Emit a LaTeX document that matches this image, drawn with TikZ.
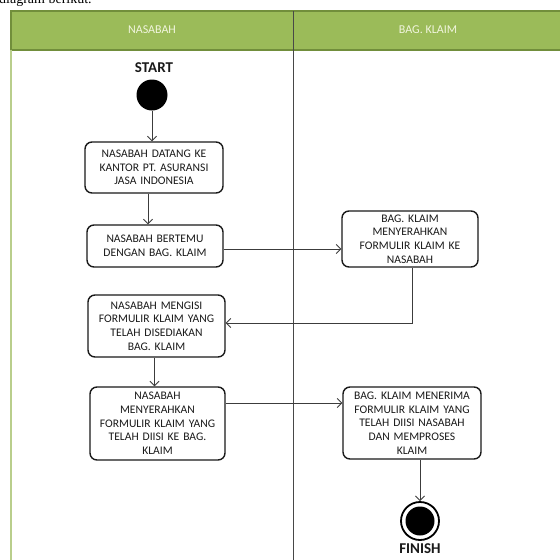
\documentclass[tikz,border=0pt]{standalone}
\usepackage{fontspec}
\setmainfont{Carlito}
\newfontfamily\introfont{Liberation Serif}
\usetikzlibrary{arrows.meta,calc}

\definecolor{lanegreen}{HTML}{9BBB59}
\definecolor{laneedge}{HTML}{718E3B}
\definecolor{laneside}{HTML}{B9CE8C}
\definecolor{lanetext}{HTML}{F1F5DE}
\definecolor{ink}{HTML}{1A1A1A}

\tikzset{
  act/.style={draw=ink, line width=1.4pt, rounded corners=7pt, fill=white,
    text=ink, align=center, inner sep=1pt,
    font=\fontsize{11.6}{13.7}\selectfont},
  flow/.style={draw=ink!85, line width=0.9pt,
    -{Straight Barb[length=4.5pt,width=9pt,line width=0.9pt]}},
  lanehead/.style={text=lanetext, font=\fontsize{12}{13}\selectfont},
  bigword/.style={text=ink, font=\fontsize{15}{16}\selectfont\bfseries},
}

\begin{document}
\begin{tikzpicture}[x=1pt,y=-1pt]
\useasboundingbox (0,0) rectangle (560,560);
\clip (0,0) rectangle (560,560);
\fill[white] (0,0) rectangle (560,560);

% preceding sentence of the page, cut by the top edge
\node[anchor=base west, inner sep=0pt, font=\introfont\fontsize{14}{15}\selectfont]
  (intro) at (-1,3.5) {diagram berikut.};

% swimlane frame
\fill[lanegreen] (11,11) rectangle (575,50);
\draw[laneedge, line width=1.6pt] (575,11) -- (11,11) -- (11,50) -- (575,50);
\draw[laneside, line width=2pt] (11,50) -- (11,562);
\draw[ink!80, line width=1pt] (293,11) -- (293,562);

\node[lanehead] (laneA) at (152,30) {NASABAH};
\node[lanehead] (laneB) at (428,30) {BAG. KLAIM};

% start
\node[bigword] (startlbl) at (154,67.5) {START};
\node[circle, fill=black, minimum size=31pt, inner sep=0pt] (start) at (152,95) {};

% activities, customer lane
\node[act, minimum width=138pt, minimum height=51pt, text width=134pt] (datang) at (154,167.5)
  {NASABAH DATANG KE\\KANTOR PT. ASURANSI\\JASA INDONESIA};
\node[act, minimum width=136pt, minimum height=42pt, text width=132pt] (bertemu) at (155,246)
  {NASABAH BERTEMU\\DENGAN BAG. KLAIM};
\node[act, minimum width=137pt, minimum height=62pt, text width=133pt] (mengisi) at (156.5,326)
  {NASABAH MENGISI\\FORMULIR KLAIM YANG\\TELAH DISEDIAKAN\\BAG. KLAIM};
\node[act, minimum width=135pt, minimum height=73pt, text width=131pt] (serah) at (157.5,423.5)
  {NASABAH\\MENYERAHKAN\\FORMULIR KLAIM YANG\\TELAH DIISI KE BAG.\\KLAIM};

% activities, claims lane
\node[act, minimum width=136pt, minimum height=56pt, text width=132pt] (formulir) at (410,239)
  {BAG. KLAIM\\MENYERAHKAN\\FORMULIR KLAIM KE\\NASABAH};
\node[act, minimum width=138pt, minimum height=72pt, text width=134pt] (terima) at (412,423)
  {BAG. KLAIM MENERIMA\\FORMULIR KLAIM YANG\\TELAH DIISI NASABAH\\DAN MEMPROSES\\KLAIM};

% finish
\node[circle, draw=black, line width=1.8pt, fill=white, minimum size=38pt, inner sep=0pt] (finish) at (420,521) {};
\node[circle, fill=black, minimum size=29pt, inner sep=0pt] (finishdot) at (finish.center) {};
\node[bigword] (finishlbl) at (420,549) {FINISH};

% control flow
\draw[flow] (start.south) -- (start.south |- datang.north);
\draw[flow] ([xshift=-6pt]datang.south) -- ([xshift=-6pt]datang.south |- bertemu.north);
\draw[flow] ([yshift=-3pt]bertemu.east) -- ([yshift=-3pt]bertemu.east -| formulir.west);
\draw[flow] ([xshift=2pt]formulir.south) |- ([yshift=3pt]mengisi.east);
\draw[flow] ([xshift=-2pt]mengisi.south) -- ([xshift=-2pt]mengisi.south |- serah.north);
\draw[flow] ([yshift=20.5pt]serah.east) -- ([yshift=20.5pt]serah.east -| terima.west);
\draw[flow] (finish.north |- terima.south) -- (finish.north);
\end{tikzpicture}
\end{document}
